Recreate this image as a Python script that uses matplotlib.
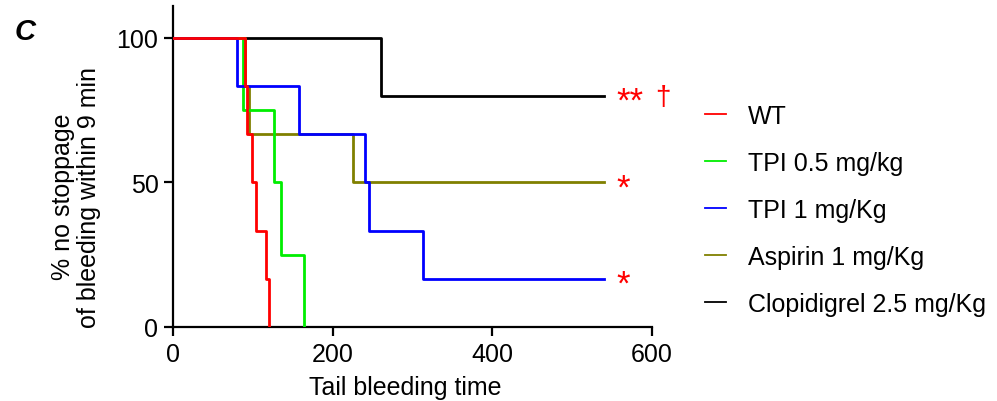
import matplotlib
matplotlib.use("Agg")
import matplotlib.pyplot as plt
from matplotlib.lines import Line2D

plt.rcParams['font.family'] = ['Liberation Sans', 'DejaVu Sans']

# Data (Kaplan-Meier style step curves)
labels = ["WT", "TPI 0.5 mg/kg", "TPI 1 mg/Kg", "Aspirin 1 mg/Kg", "Clopidigrel 2.5 mg/Kg"]
colors = ["#ff0000", "#00ee00", "#0000ff", "#808000", "#000000"]

wt_t = [0, 90, 93, 99, 104, 116, 120]
wt_v = [100, 83.3, 66.7, 50, 33.3, 16.7, 0]

tpi05_t = [0, 88, 127, 135, 164]
tpi05_v = [100, 75, 50, 25, 0]

tpi1_t = [0, 80, 158, 240, 245, 313, 540]
tpi1_v = [100, 83.3, 66.7, 50, 33.3, 16.7, 16.7]

asp_t = [0, 90, 95, 225, 540]
asp_v = [100, 83.3, 66.7, 50, 50]

clop_t = [0, 260, 540]
clop_v = [100, 80, 80]

series_t = [wt_t, tpi05_t, tpi1_t, asp_t, clop_t]
series_v = [wt_v, tpi05_v, tpi1_v, asp_v, clop_v]

xticks = [0, 200, 400, 600]
yticks = [0, 50, 100]

FS = 18

fig = plt.figure(figsize=(9.97, 4.02), dpi=100)
ax = fig.add_axes([173/997, 1-328/402, (652-173)/997, (328-7)/402])

order = [4, 3, 1, 2, 0]
for i in order:
    ax.step(series_t[i], series_v[i], where='post', color=colors[i], lw=2.0, zorder=2+order.index(i))

ax.set_xlim(0, 600)
ax.set_ylim(0, 111)
ax.set_xticks(xticks)
ax.set_yticks(yticks)
ax.spines['top'].set_visible(False)
ax.spines['right'].set_visible(False)
for s in ['left', 'bottom']:
    ax.spines[s].set_linewidth(1.6)
ax.spines['left'].set_bounds(0, 111)
ax.tick_params(direction='out', length=6.5, width=1.6, labelsize=FS, pad=4)

fig.text(405/997, 1-395/402, "Tail bleeding time", ha='center', va='baseline', fontsize=FS)
fig.text(76/997, 1-197/402, "% no stoppage\nof bleeding within 9 min", ha='center', va='center',
         rotation=90, fontsize=FS, linespacing=1.1)
fig.text(15/997, 1-40/402, "C", ha='left', va='baseline', fontsize=21, fontweight='bold', fontstyle='italic')

# significance annotations
ax.text(555, 78, "**", color='#ff0000', fontsize=25, ha='left', va='center')
ax.text(604, 79.5, "\u2020", color='#ff0000', fontsize=20, ha='left', va='center')
ax.text(555, 48, "*", color='#ff0000', fontsize=25, ha='left', va='center')
ax.text(555, 14.7, "*", color='#ff0000', fontsize=25, ha='left', va='center')

handles = [Line2D([0], [0], color=c, lw=1.3) for c in colors]
fig.legend(handles, labels, loc='upper left', bbox_to_anchor=(705/997, 1-105/402),
           frameon=False, fontsize=FS, handlelength=0.85, handletextpad=0.85, labelspacing=0.92,
           borderaxespad=0, borderpad=0)

fig.savefig("out.png", dpi=100)
